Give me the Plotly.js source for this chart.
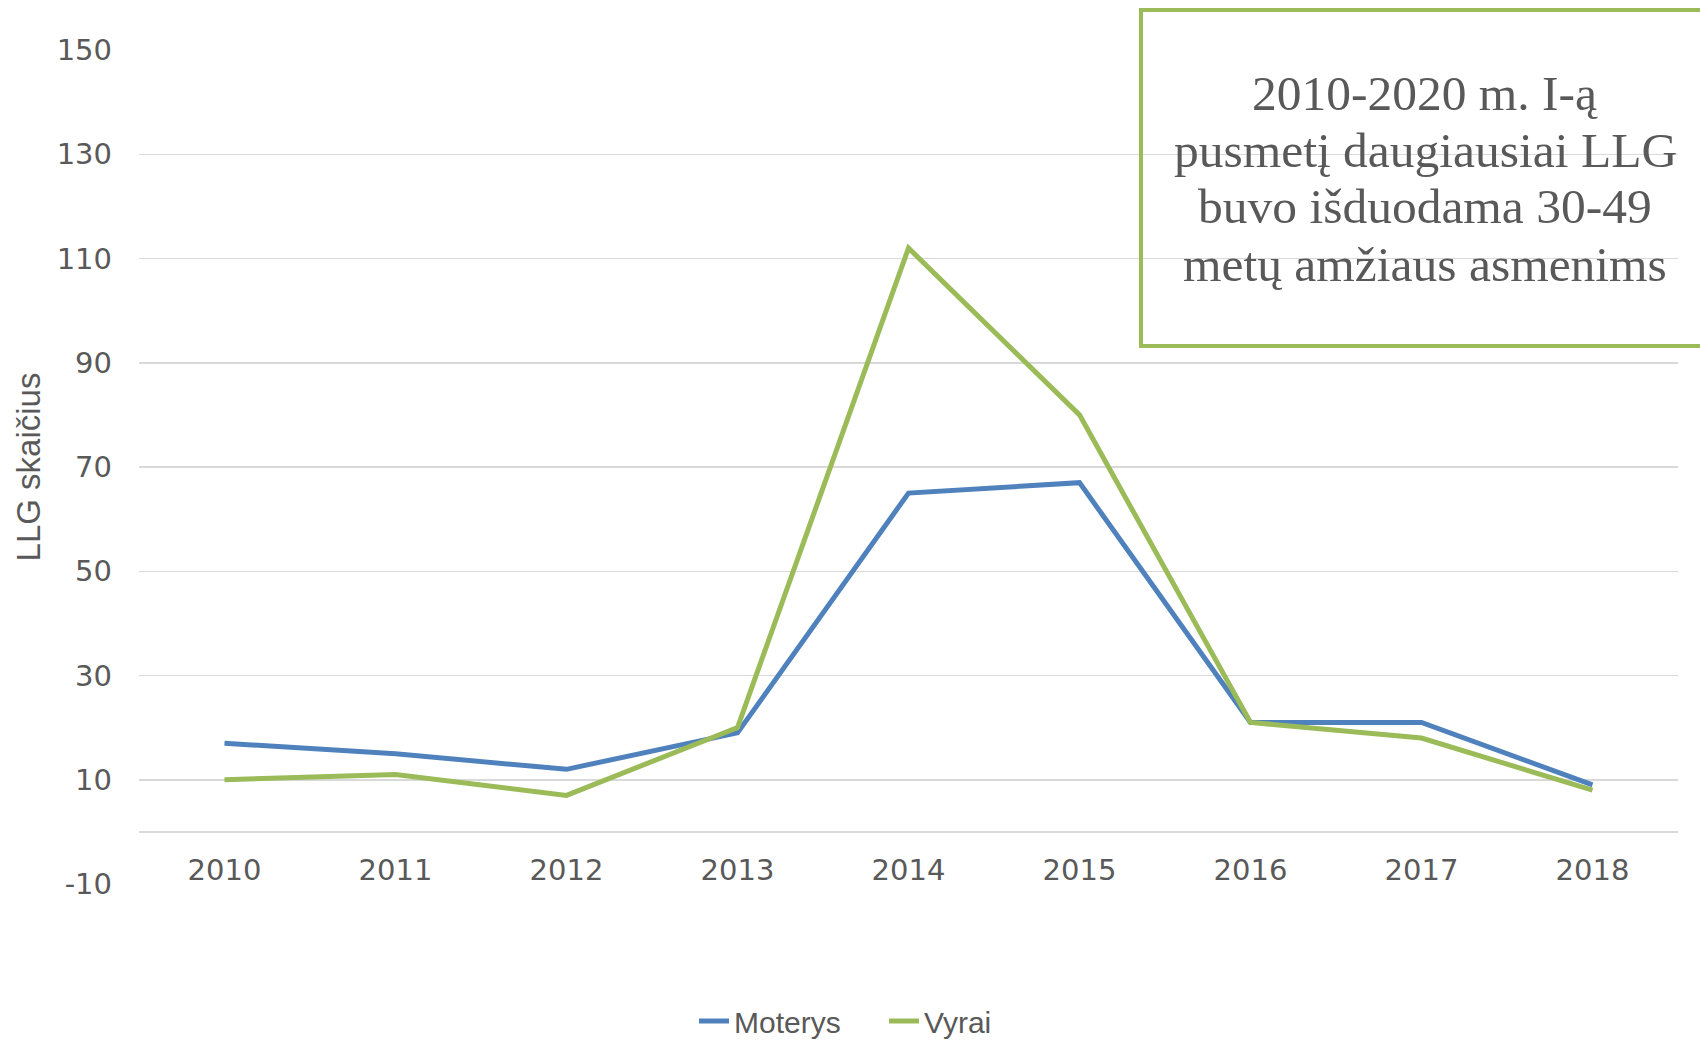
<!DOCTYPE html>
<html>
<head>
<meta charset="utf-8">
<script src="https://cdn.plot.ly/plotly-3.0.1.min.js"></script>
<style>
html,body{margin:0;padding:0;background:#fff;}
#chart{width:1700px;height:1042px;}
</style>
</head>
<body>
<div id="chart"></div>
<script>
// Data
const years = ["2010","2011","2012","2013","2014","2015","2016","2017","2018"];
const moterys = [17, 15, 12, 19, 65, 67, 21, 21, 9];
const vyrai = [10, 11, 7, 20, 112, 80, 21, 18, 8];
const seriesNames = ["Moterys", "Vyrai"];
const yTickVals = [-10, 10, 30, 50, 70, 90, 110, 130, 150];
const yTickLabels = ["-10", "10", "30", "50", "70", "90", "110", "130", "150"];
const yTitle = "LLG skaičius";
const noteLines = [
  "2010-2020 m. I-ą",
  "pusmetį daugiausiai LLG",
  "buvo išduodama 30-49",
  "metų amžiaus asmenims"
];

// Layout geometry (px)
const W = 1700, H = 1042;
const ML = 139, MR = 22, MT = 50, MB = 158;
const PW = W - ML - MR, PH = H - MT - MB;
const px = x => (x - ML) / PW;
const py = y => (H - MB - y) / PH;

const txtColor = "#595959";
const sans = "Liberation Sans, Arial, sans-serif";
const tickFont = "DejaVu Sans, Verdana, sans-serif";

const traces = [
  {x: years, y: moterys, name: seriesNames[0], type: "scatter", mode: "lines",
   line: {color: "#4f81bd", width: 5}},
  {x: years, y: vyrai, name: seriesNames[1], type: "scatter", mode: "lines",
   line: {color: "#9bbb59", width: 5}}
];

const noteY = [93.5, 150.5, 206.5, 264];
const annotations = noteLines.map((t, i) => ({
  text: t, xref: "paper", yref: "paper", x: px(1425), y: py(noteY[i]),
  xanchor: "center", yanchor: "middle", showarrow: false,
  font: {family: "Liberation Serif, Times New Roman, serif", size: 49.5, color: txtColor}
}));

const layout = {
  width: W, height: H,
  margin: {l: ML, r: MR, t: MT, b: MB, autoexpand: false},
  paper_bgcolor: "#fff", plot_bgcolor: "#fff",
  font: {family: sans, color: txtColor},
  showlegend: true,
  legend: {
    orientation: "h", x: px(694), xanchor: "left", y: py(995), yanchor: "top",
    font: {family: sans, size: 30, color: txtColor},
    entrywidth: 145, entrywidthmode: "pixels",
    bgcolor: "rgba(0,0,0,0)"
  },
  xaxis: {
    type: "category", range: [-0.5, 8.5], anchor: "free", position: 10/160,
    showgrid: false, showline: false, zeroline: false, ticks: "",
    tickfont: {family: tickFont, size: 29, color: txtColor},
    ticklabelstandoff: 18, fixedrange: true
  },
  yaxis: {
    range: [-10, 150], tickmode: "array", tickvals: yTickVals, ticktext: yTickLabels,
    showgrid: true, gridcolor: "#d9d9d9", gridwidth: 1.5,
    zeroline: true, zerolinecolor: "#d9d9d9", zerolinewidth: 1.5,
    showline: false, ticks: "",
    tickfont: {family: tickFont, size: 29, color: txtColor},
    ticklabelstandoff: 26,
    title: {text: yTitle, font: {family: sans, size: 33, color: txtColor}, standoff: 6},
    automargin: false, fixedrange: true
  },
  shapes: [{
    type: "rect", xref: "paper", yref: "paper",
    x0: px(1141), x1: px(1760), y0: py(346), y1: py(10),
    line: {color: "#9bbb59", width: 4}, fillcolor: "rgba(0,0,0,0)"
  }],
  annotations: annotations
};

Plotly.newPlot("chart", traces, layout, {displayModeBar: false, staticPlot: true});
</script>
</body>
</html>
